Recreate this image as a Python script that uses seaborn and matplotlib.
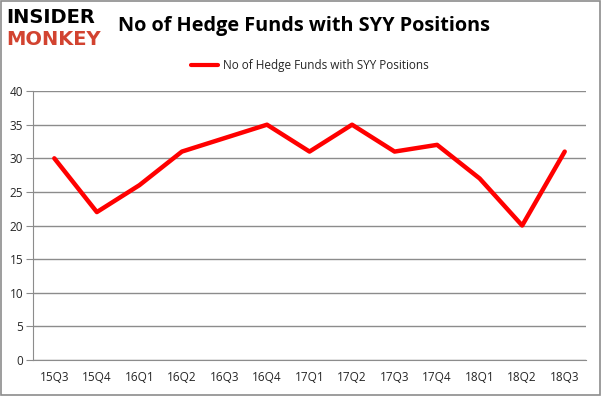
import matplotlib
matplotlib.use("Agg")
import matplotlib.pyplot as plt
import seaborn as sns
import pandas as pd

quarters = ["15Q3", "15Q4", "16Q1", "16Q2", "16Q3", "16Q4", "17Q1",
            "17Q2", "17Q3", "17Q4", "18Q1", "18Q2", "18Q3"]
funds = [30, 22, 26, 31, 33, 35, 31, 35, 31, 32, 27, 20, 31]
series_name = "No of Hedge Funds with SYY Positions"

df = pd.DataFrame({"quarter": quarters, "funds": funds, "series": series_name})
df["pos"] = range(len(quarters))

sns.set_style("white")
plt.rcParams["font.family"] = ["Open Sans", "DejaVu Sans"]

fig = plt.figure(figsize=(6.01, 3.96), dpi=100)
ax = fig.add_axes([0.055, 0.091, 0.92, 0.679])

sns.lineplot(data=df, x="pos", y="funds", hue="series", palette=["#ff0000"],
             linewidth=3.2, ax=ax)

ax.set_xlim(-0.5, len(quarters) - 0.5)
ax.set_ylim(0, 40)
ax.set_yticks(range(0, 41, 5))
ax.set_xticks(df["pos"])
ax.set_xticklabels(quarters)
ax.set_xlabel("")
ax.set_ylabel("")
ax.yaxis.grid(True, color="#8c8c8c", linewidth=1)
ax.set_axisbelow(True)
for side in ["top", "right"]:
    ax.spines[side].set_visible(False)
ax.spines["left"].set_color("#8c8c8c")
ax.spines["bottom"].set_color("#8c8c8c")
ax.tick_params(axis="y", length=5, color="#8c8c8c", labelsize=8.5, pad=2, left=True)
ax.tick_params(axis="x", length=0, labelsize=8.5, pad=8)

leg = ax.legend(loc="lower center", bbox_to_anchor=(0.5, 1.03), frameon=False,
                fontsize=8.5, handlelength=2.3, handletextpad=0.4)
for line in leg.get_lines():
    line.set_linewidth(3)

# title and logo
fig.text(0.505, 0.935, series_name, ha="center", va="center",
         fontsize=14.3, fontweight="bold", color="black")
fig.text(0.01, 0.955, "INSIDER", ha="left", va="center", fontsize=14,
         fontweight="bold", color="black", family=["DejaVu Sans"])
fig.text(0.01, 0.9, "MONKEY", ha="left", va="center", fontsize=14,
         fontweight="bold", color="#d24330", family=["DejaVu Sans"])

# outer border
fig.patches.append(plt.Rectangle((0.002, 0.003), 0.996, 0.994, transform=fig.transFigure,
                                 fill=False, edgecolor="#8c8c8c", linewidth=1.2))

fig.savefig("out.png", dpi=100)
